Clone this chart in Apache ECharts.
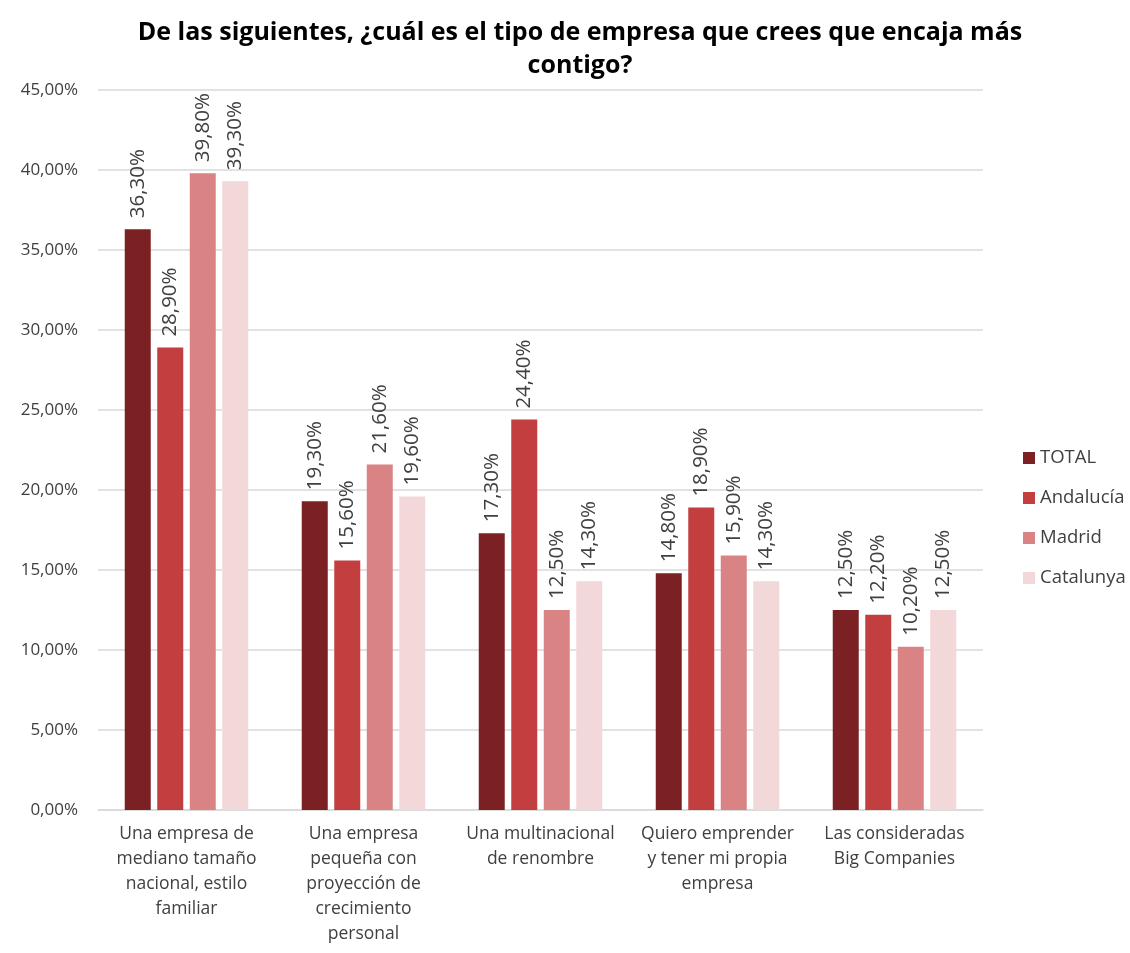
<!DOCTYPE html>
<html><head><meta charset="utf-8">
<script src="https://cdn.jsdelivr.net/npm/echarts@6/dist/echarts.min.js"></script>
<style>html,body{margin:0;padding:0;background:#fff}#c{width:1130px;height:953px}</style>
</head><body><div id="c"></div>
<script>
const titleText = 'De las siguientes, ¿cuál es el tipo de empresa que crees que encaja más\ncontigo?';
const categories = [
  'Una empresa de\nmediano tamaño\nnacional, estilo\nfamiliar',
  'Una empresa\npequeña con\nproyección de\ncrecimiento\npersonal',
  'Una multinacional\nde renombre',
  'Quiero emprender\ny tener mi propia\nempresa',
  'Las consideradas\nBig Companies'
];
const seriesNames = ['TOTAL', 'Andalucía', 'Madrid', 'Catalunya'];
const seriesColors = ['#7B2023', '#C23E3F', '#D98384', '#F3D8D9'];
const totalValues = [36.3, 19.3, 17.3, 14.8, 12.5];
const andaluciaValues = [28.9, 15.6, 24.4, 18.9, 12.2];
const madridValues = [39.8, 21.6, 12.5, 15.9, 10.2];
const catalunyaValues = [39.3, 19.6, 14.3, 14.3, 12.5];
const allValues = [totalValues, andaluciaValues, madridValues, catalunyaValues];

const fmt = v => v.toFixed(2).replace('.', ',') + '%';
const FONT = '"Open Sans", Lato, sans-serif';

const chart = echarts.init(document.getElementById('c'));
chart.setOption({
  animation: false,
  textStyle: { fontFamily: FONT },
  title: {
    text: titleText, left: 575, textAlign: 'center', top: 11,
    textStyle: { fontFamily: FONT, fontSize: 25, fontWeight: 'bold', color: '#000', lineHeight: 33 }
  },
  legend: {
    orient: 'vertical', left: 1018, top: 442, itemGap: 18,
    itemWidth: 12, itemHeight: 12, icon: 'rect',
    textStyle: { fontFamily: FONT, fontSize: 18.5, color: '#404040', lineHeight: 22, padding: [0, 0, 0, 0] },
    data: seriesNames
  },
  grid: { left: 98, right: 147, top: 90, bottom: 143 },
  xAxis: {
    type: 'category', data: categories,
    axisLine: { lineStyle: { color: '#d9d9d9', width: 1.5 } },
    axisTick: { show: false },
    axisLabel: { interval: 0, fontFamily: FONT, fontSize: 17.5, color: '#404040', lineHeight: 25, margin: 12 }
  },
  yAxis: {
    type: 'value', min: 0, max: 45, interval: 5,
    axisLine: { show: false }, axisTick: { show: false },
    splitLine: { lineStyle: { color: '#d9d9d9', width: 1.5 } },
    axisLabel: { formatter: v => fmt(v), fontFamily: FONT, fontSize: 17, color: '#404040', margin: 20 }
  },
  series: seriesNames.map((n, i) => ({
    name: n, type: 'bar', data: allValues[i],
    barWidth: 26, barGap: '25%',
    itemStyle: { color: seriesColors[i] },
    label: {
      show: true, position: 'top', rotate: 90, align: 'left', verticalAlign: 'middle',
      distance: 11, formatter: p => fmt(p.value), fontFamily: FONT, fontSize: 20.5, color: '#404040'
    }
  }))
});
</script></body></html>
